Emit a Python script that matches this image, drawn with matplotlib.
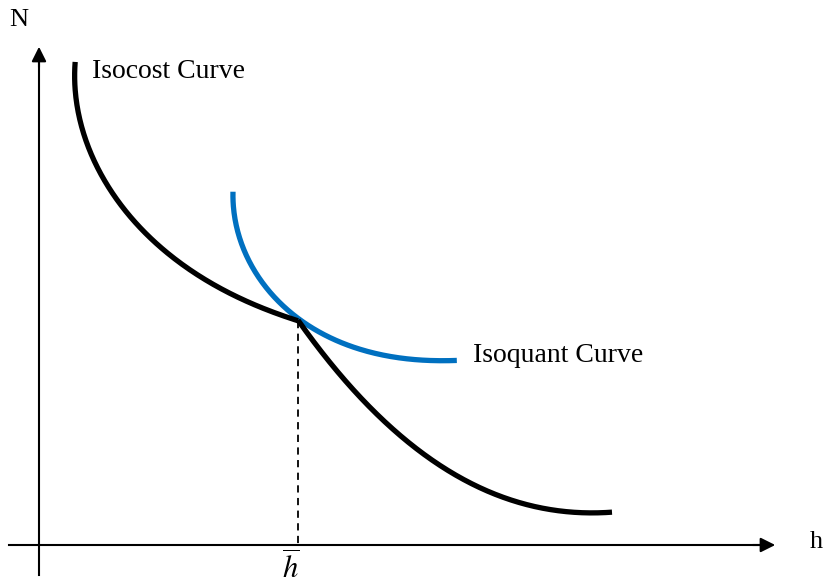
import numpy as np
import matplotlib.pyplot as plt

# points (pixel coordinates, y downwards)
isocost_left_h = [75, 80, 93, 110, 143, 177, 210, 243, 277, 298]
isocost_left_n = [62, 117, 160, 190, 230, 260, 283, 300, 313, 321]
isocost_right_h = [298, 323, 357, 390, 423, 457, 490, 523, 557, 585, 612]
isocost_right_n = [321, 353, 393, 427, 453, 477, 493, 503, 510, 512, 513]
isoquant_h = [233, 235, 243, 257, 273, 298, 323, 357, 390, 423, 457]
isoquant_n = [192, 220, 247, 273, 297, 321, 332, 347, 357, 361, 360]
h_bar = 298
axis_origin = (39, 545)


def smooth(xs, ys, deg=3):
    # parametric least-squares fit over chord length, just to draw it smoothly
    xs, ys = np.asarray(xs, float), np.asarray(ys, float)
    t = np.concatenate([[0], np.cumsum(np.hypot(np.diff(xs), np.diff(ys)))])
    t /= t[-1]
    tt = np.linspace(0, 1, 200)
    return np.polyval(np.polyfit(t, xs, deg), tt), np.polyval(np.polyfit(t, ys, deg), tt)


def smooth_fx(xs, ys, deg=3):
    # the lower branch is a plain function of h
    xx = np.linspace(xs[0], xs[-1], 200)
    return xx, np.polyval(np.polyfit(xs, ys, deg), xx)


fig = plt.figure(figsize=(8.25, 5.87), dpi=100)
ax = fig.add_axes([0, 0, 1, 1])
ax.set_xlim(0, 825)
ax.set_ylim(587, 0)
ax.axis('off')

serif = 'Liberation Serif'

# axes with arrows
ox, oy = axis_origin
ax.plot([ox, ox], [575, 60], color='black', lw=1.5)
ax.plot([9, 760], [oy, oy], color='black', lw=1.5)
ax.annotate('', xy=(ox, 44), xytext=(ox, 70),
            arrowprops=dict(arrowstyle='-|>', color='black', lw=1.5, mutation_scale=22))
ax.annotate('', xy=(778, oy), xytext=(750, oy),
            arrowprops=dict(arrowstyle='-|>', color='black', lw=1.5, mutation_scale=22))

# dashed guide at h bar
ax.plot([h_bar, h_bar], [321, oy], color='black', lw=1.3, ls=(0, (4, 3)))

# curves
ax.plot(*smooth(isoquant_h, isoquant_n, 4), color='#0070c0', lw=3.8, solid_capstyle='butt')
ax.plot(*smooth(isocost_left_h, isocost_left_n, 4), color='black', lw=3.8,
        solid_capstyle='butt')
ax.plot(*smooth_fx(isocost_right_h, isocost_right_n, 3), color='black', lw=3.8,
        solid_capstyle='butt')

# labels
ax.text(19, 20, 'N', fontsize=19, family=serif, ha='center', va='center')
ax.text(816, 542, 'h', fontsize=19, family=serif, ha='center', va='center')
ax.text(92, 72, 'Isocost Curve', fontsize=20, family=serif, ha='left', va='center')
ax.text(473, 355, 'Isoquant Curve', fontsize=20, family=serif, ha='left', va='center')
ax.text(291, 568, r'$\overline{h}$', fontsize=22, ha='center', va='center',
        math_fontfamily='stix')

fig.savefig('out.png', dpi=100)
